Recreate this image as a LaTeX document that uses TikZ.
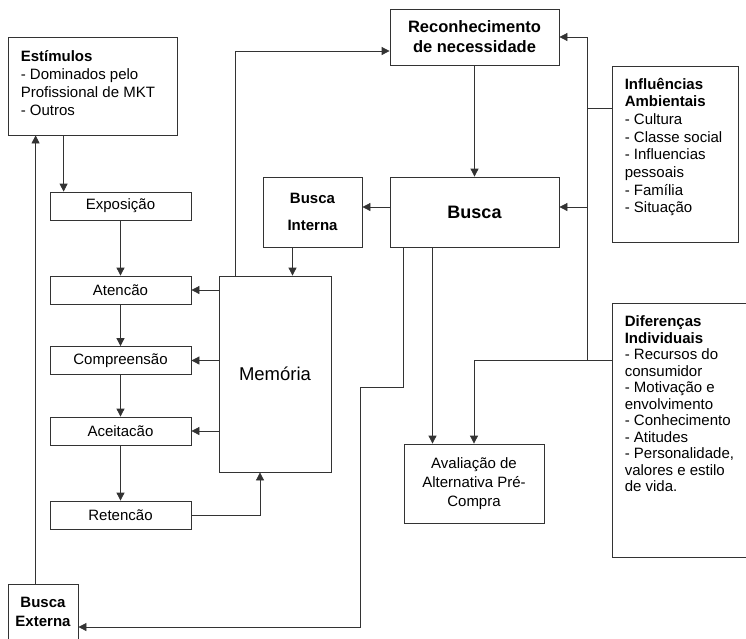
\documentclass[tikz,border=0pt]{standalone}
\usepackage{fontspec}
\setmainfont{Liberation Sans}
\usetikzlibrary{arrows.meta}

\tikzset{
    box/.style={draw=black!80, line width=0.8pt, inner sep=0pt, align=center,
        font=\fontsize{15}{19}\selectfont},
    stage/.style={box, minimum width=141pt, minimum height=28pt},
    txt/.style={anchor=north west, align=left, inner xsep=13pt, inner ysep=13pt,
        font=\fontsize{15}{18}\selectfont},
    arr/.style={-{Triangle[length=8pt,width=8pt]}, draw=black!80, line width=0.8pt},
    wire/.style={draw=black!80, line width=0.8pt}
}

\begin{document}
\begin{tikzpicture}[x=1pt, y=-1pt]
        \useasboundingbox (0,0) rectangle (746,638);

        % caixas da esquerda
        \node[box, minimum width=169pt, minimum height=98pt,
            label={[txt, inner ysep=14pt]north west:{\textbf{Estímulos}\\- Dominados pelo\\Profissional de MKT\\- Outros}}]
            (estim) at (92.5,86) {};
        \node[stage] (expo) at (120.5,206) {Exposição};
        \node[stage] (aten) at (120.5,290) {Atencão};
        \node[stage] (comp) at (120.5,360.5) {Compreensão};
        \node[stage] (acei) at (120.5,431) {Aceitacão};
        \node[stage] (ret) at (120.5,515) {Retencão};
        \node[box, minimum width=112pt, minimum height=196pt, font=\fontsize{18.5}{22}\selectfont]
            (mem) at (275,374) {Memória};
        \node[box, minimum width=70pt, minimum height=56pt, font=\bfseries\fontsize{15}{19}\selectfont]
            (bext) at (43,612) {Busca\\Externa};

        % caixas do centro
        \node[box, minimum width=169pt, minimum height=56pt, font=\bfseries\fontsize{16.5}{20}\selectfont]
            (recon) at (474.5,37) {Reconhecimento\\de necessidade};
        \node[box, minimum width=169pt, minimum height=70pt, font=\bfseries\fontsize{18}{22}\selectfont]
            (busca) at (474.5,212) {Busca};
        \node[box, minimum width=99pt, minimum height=70pt, font=\bfseries\fontsize{15}{27}\selectfont]
            (bint) at (312.5,212) {Busca\\Interna};
        \node[box, minimum width=140pt, minimum height=79pt]
            (aval) at (474,483.5) {Avaliação de\\Alternativa Pré-\\Compra};

        % caixas da direita
        \node[box, minimum width=126pt, minimum height=176pt,
            label={[txt, inner ysep=12pt, font=\fontsize{15}{17.7}\selectfont]north west:{\textbf{Influências}\\\textbf{Ambientais}\\- Cultura\\- Classe social\\- Influencias\\pessoais\\- Família\\- Situação}}]
            (ambient) at (675,154) {};
        \node[box, minimum width=140pt, minimum height=254pt,
            label={[txt, font=\fontsize{15}{16.5}\selectfont]north west:{\textbf{Diferenças}\\\textbf{Individuais}\\- Recursos do\\consumidor\\- Motivação e\\envolvimento\\- Conhecimento\\- Atitudes\\- Personalidade,\\valores e estilo\\de vida.}}]
            (difer) at (682,430) {};

        \coordinate (jA) at (587,108);
        \coordinate (jD) at (587,360);

        % processamento da informacao
        \draw[arr] ([xshift=14pt]expo.north west |- estim.south) -- ([xshift=14pt]expo.north west);
        \draw[arr] (expo) -- (aten);
        \draw[arr] (aten) -- (comp);
        \draw[arr] (comp) -- (acei);
        \draw[arr] (acei) -- (ret);
        \draw[arr] (aten.east -| mem.west) -- (aten.east);
        \draw[arr] (comp.east -| mem.west) -- (comp.east);
        \draw[arr] (acei.east -| mem.west) -- (acei.east);
        \draw[arr] (ret.east) -| ([xshift=-15pt]mem.south);
        \draw[arr] ([xshift=17pt]mem.north west) |- ([yshift=-14pt]recon.west);
        \draw[arr] ([xshift=28pt]bext.north west) -- ([xshift=28pt]bext.north west |- estim.south);

        % busca
        \draw[arr] (recon) -- (busca);
        \draw[arr] ([yshift=5pt]busca.west) -- ([yshift=5pt]busca.west -| bint.east);
        \draw[arr] ([xshift=-20pt]bint.south) -- ([xshift=-20pt]bint.south |- mem.north);
        \draw[arr] ([xshift=-42pt]busca.south) -- ([xshift=-42pt]busca.south |- aval.north);
        \draw[arr] ([xshift=14pt]busca.south west) -- ++(0,140) -- ++(-43,0)
            |- ([yshift=-15pt]bext.east);

        % influencias externas
        \draw[wire] (jA -| ambient.west) -- (jA);
        \draw[wire] (jD -| difer.west) -- (jD);
        \draw[arr] (jD) |- (recon.east);
        \draw[arr] ([yshift=5pt]busca.east -| jD) -- ([yshift=5pt]busca.east);
        \draw[arr] (jD) -| (aval.north);
\end{tikzpicture}
\end{document}
